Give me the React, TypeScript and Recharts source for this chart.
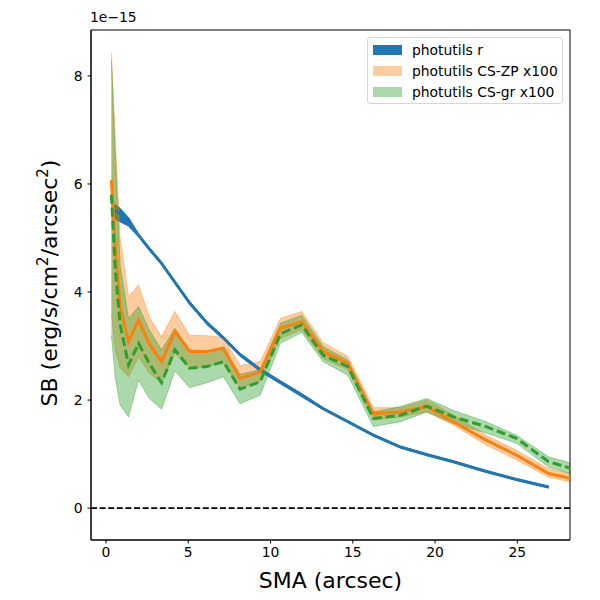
import React from 'react';
import {
  ComposedChart,
  Area,
  Line,
  XAxis,
  YAxis,
  ReferenceLine,
  ReferenceArea,
} from 'recharts';

// semi-major axis (arcsec)
const sma = [0.33, 0.57, 0.86, 1.37, 1.98, 2.63, 3.38, 4.19, 5.08, 6.13, 7.14, 8.15, 9.37, 10.6, 11.9, 13.2, 14.7, 16.25, 17.9, 19.5, 21.1, 23.1, 24.95, 26.9, 28.2];

// surface brightness, units of 1e-15 erg/s/cm^2/arcsec^2
const rLine = [5.49, 5.5, 5.45, 5.3, 5.05, 4.8, 4.53, 4.18, 3.8, 3.43, 3.15, 2.84, 2.56, 2.33, 2.09, 1.84, 1.6, 1.35, 1.13, 0.99, 0.86, 0.68, 0.53, 0.39, null];
const rLo = [5.42, 5.35, 5.3, 5.22, 5.02, 4.77, 4.5, 4.15, 3.77, 3.4, 3.12, 2.81, 2.53, 2.3, 2.06, 1.82, 1.58, 1.33, 1.11, 0.97, 0.84, 0.66, 0.51, 0.37, null];
const rHi = [5.56, 5.62, 5.55, 5.38, 5.08, 4.83, 4.56, 4.21, 3.83, 3.46, 3.18, 2.87, 2.59, 2.36, 2.12, 1.86, 1.62, 1.37, 1.15, 1.01, 0.88, 0.7, 0.55, 0.41, null];

const zpLine = [6.07, 4.8, 3.73, 3.08, 3.48, 3.04, 2.71, 3.27, 2.9, 2.9, 2.96, 2.4, 2.52, 3.33, 3.45, 2.9, 2.68, 1.75, 1.78, 1.88, 1.6, 1.26, 0.98, 0.64, 0.55];
const zpHi = [8.43, 6.8, 5.0, 3.91, 4.13, 3.54, 3.17, 3.64, 3.2, 3.19, 3.16, 2.64, 2.71, 3.51, 3.64, 3.06, 2.81, 1.86, 1.86, 2.0, 1.73, 1.35, 1.07, 0.73, 0.64];
const zpLo = [3.6, 2.9, 2.6, 2.43, 2.8, 2.5, 2.31, 2.87, 2.59, 2.62, 2.68, 2.22, 2.34, 3.14, 3.3, 2.77, 2.56, 1.63, 1.69, 1.78, 1.54, 1.17, 0.89, 0.57, 0.49];

const grLine = [5.8, 4.4, 3.4, 2.65, 3.05, 2.68, 2.32, 2.93, 2.59, 2.62, 2.71, 2.2, 2.34, 3.23, 3.39, 2.83, 2.62, 1.66, 1.72, 1.89, 1.69, 1.51, 1.29, 0.86, 0.74];
const grHi = [8.3, 6.5, 4.5, 3.51, 3.73, 3.3, 2.93, 3.33, 2.93, 2.9, 2.98, 2.48, 2.56, 3.42, 3.57, 2.99, 2.74, 1.78, 1.88, 2.03, 1.81, 1.6, 1.35, 0.95, 0.84];
const grLo = [3.2, 2.4, 1.91, 1.69, 2.37, 2.03, 1.83, 2.54, 2.23, 2.32, 2.43, 1.93, 2.09, 3.05, 3.25, 2.71, 2.46, 1.51, 1.6, 1.78, 1.57, 1.39, 1.2, 0.76, 0.64];

const xTicks = [0, 5, 10, 15, 20, 25];
const yTicks = [0, 2, 4, 6, 8];
const xDomain = [-0.91, 28.2];
const yDomain = [-0.59, 8.85];

const legendItems = [
  { name: 'photutils r', color: '#1f77b4', opacity: 1 },
  { name: 'photutils CS-ZP x100', color: '#ff7f0e', opacity: 0.4 },
  { name: 'photutils CS-gr x100', color: '#2ca02c', opacity: 0.4 },
];

const data = sma.map((x, i) => ({
  x,
  r: rLine[i],
  rBand: rLo[i] == null ? null : [rLo[i], rHi[i]],
  zp: zpLine[i],
  zpBand: [zpLo[i], zpHi[i]],
  gr: grLine[i],
  grBand: [grLo[i], grHi[i]],
}));

const FONT = 'DejaVu Sans, sans-serif';

const LegendBox = () => (
  <div
    style={{
      position: 'absolute',
      left: 367,
      top: 37,
      width: 196,
      height: 67,
      border: '1px solid #d6d6d6',
      borderRadius: 3,
      background: 'rgba(255,255,255,0.8)',
      boxSizing: 'border-box',
      fontFamily: FONT,
      fontSize: 13.9,
      color: '#000',
    }}
  >
    {legendItems.map((it, i) => (
      <div key={it.name} style={{ position: 'absolute', left: 5, top: 6 + i * 21, height: 12, display: 'flex', alignItems: 'center' }}>
        <div style={{ width: 29, height: 10, background: it.color, opacity: it.opacity }} />
        <span style={{ marginLeft: 10, whiteSpace: 'nowrap', lineHeight: '12px' }}>{it.name}</span>
      </div>
    ))}
  </div>
);

const YLabel = () => (
  <text
    x={57}
    y={283}
    transform="rotate(-90 57 283)"
    textAnchor="middle"
    fontFamily={FONT}
    fontSize={22}
    fill="#000"
  >
    SB (erg/s/cm<tspan fontSize={15} dy={-9}>2</tspan>
    <tspan dy={9}>/arcsec</tspan>
    <tspan fontSize={15} dy={-9}>2</tspan>
    <tspan dy={9}>)</tspan>
  </text>
);

export default function App() {
  return (
    <div style={{ position: 'absolute', left: 0, top: 0, width: 600, height: 600, background: '#fff' }}>
      <ComposedChart width={600} height={600} data={data} margin={{ top: 30, right: 30, bottom: 0, left: 0 }}>
        <XAxis
          dataKey="x"
          type="number"
          domain={xDomain}
          ticks={xTicks}
          allowDataOverflow
          height={60}
          axisLine={{ stroke: '#000' }}
          tickLine={{ stroke: '#000' }}
          tickSize={3.5}
          tickMargin={4}
          tick={{ fontSize: 13.9, fill: '#000', fontFamily: FONT }}
          label={{ value: 'SMA (arcsec)', position: 'insideBottom', offset: 12, style: { fontSize: 22, fill: '#000', fontFamily: FONT } }}
        />
        <YAxis
          type="number"
          domain={yDomain}
          ticks={yTicks}
          allowDataOverflow
          width={91}
          axisLine={{ stroke: '#000' }}
          tickLine={{ stroke: '#000' }}
          tickSize={3.5}
          tickMargin={5}
          tick={{ fontSize: 13.9, fill: '#000', fontFamily: FONT }}
          label={<YLabel />}
        />
        <Area type="linear" dataKey="rBand" fill="#1f77b4" fillOpacity={1} stroke="#1f77b4" strokeWidth={1} isAnimationActive={false} />
        <Area type="linear" dataKey="zpBand" fill="#ff7f0e" fillOpacity={0.4} stroke="#ff7f0e" strokeOpacity={0.4} strokeWidth={1} isAnimationActive={false} />
        <Area type="linear" dataKey="grBand" fill="#2ca02c" fillOpacity={0.4} stroke="#2ca02c" strokeOpacity={0.4} strokeWidth={1} isAnimationActive={false} />
        <Line type="linear" dataKey="r" stroke="#1f77b4" strokeWidth={2.6} dot={false} activeDot={false} isAnimationActive={false} />
        <Line type="linear" dataKey="zp" stroke="#ff7f0e" strokeWidth={3} dot={false} activeDot={false} isAnimationActive={false} />
        <Line type="linear" dataKey="gr" stroke="#2ca02c" strokeWidth={3} strokeDasharray="9 4" dot={false} activeDot={false} isAnimationActive={false} />
        <ReferenceLine y={0} stroke="#000" strokeWidth={1.6} strokeDasharray="6 2.6" />
        <ReferenceArea x1={xDomain[0]} x2={xDomain[1]} y1={yDomain[0]} y2={yDomain[1]} fill="none" stroke="#000" strokeWidth={1} />
      </ComposedChart>
      <LegendBox />
      <div style={{ position: 'absolute', left: 90, top: 9, fontFamily: FONT, fontSize: 13.9, color: '#000' }}>1e−15</div>
    </div>
  );
}
